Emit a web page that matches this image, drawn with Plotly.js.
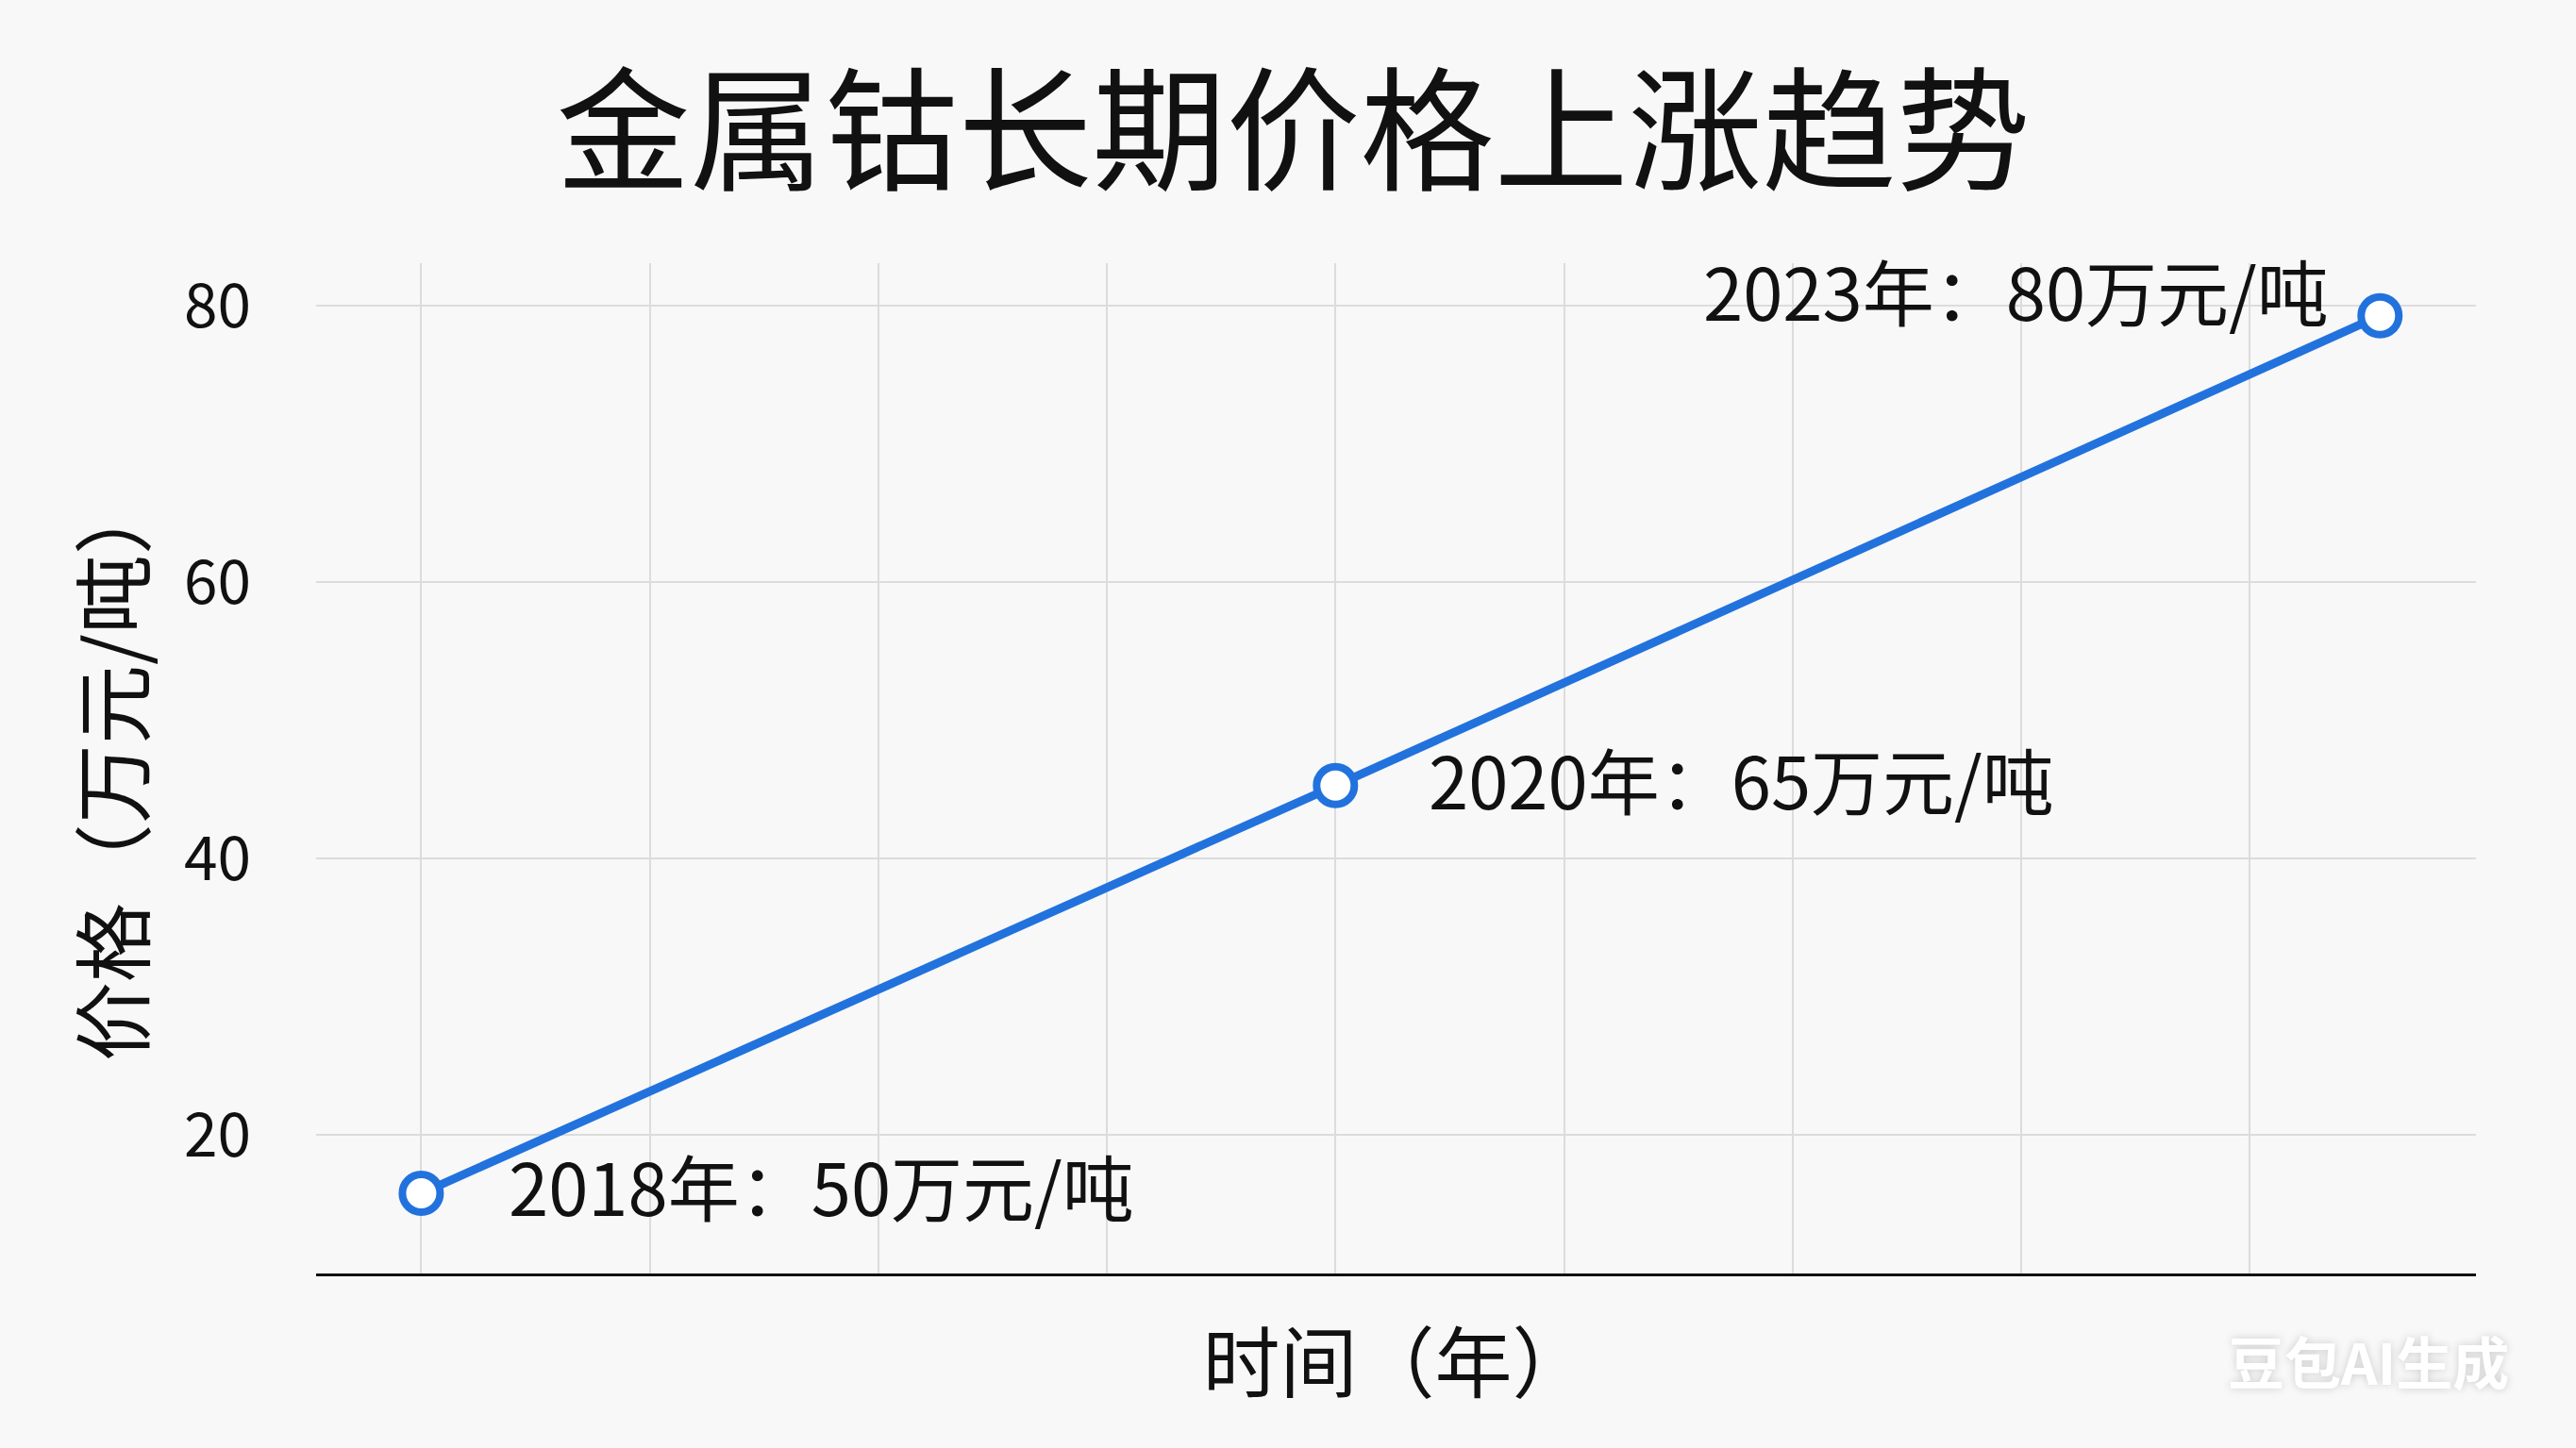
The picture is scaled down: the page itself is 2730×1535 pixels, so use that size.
<!DOCTYPE html>
<html>
<head>
<meta charset="utf-8">
<script src="https://cdn.plot.ly/plotly-3.0.1.min.js"></script>
<style>
  html, body { margin: 0; padding: 0; background: #f8f8f8; }
  #chart { width: 2730px; height: 1535px; }
</style>
</head>
<body>
<div id="chart"></div>
<script>
// ---- data ----
const years = ['2018', '2020', '2023'];          // label years
const priceLabels = [50, 65, 80];                 // 万元/吨 as written in the labels
const timePos = [0, 4, 8.57];                     // horizontal position of each point (grid units)
const plottedPrice = [15.8, 45.3, 79.3];          // height of each point on the price axis
const yTicks = [20, 40, 60, 80];

const titleText = '金属钴长期价格上涨趋势';
const xTitle = '时间（年）';
const yTitle = '价格（万元/吨）';
const watermark = '豆包AI生成';

// label placement per point (styles only)
const labelStyle = [
  { xanchor: 'left',  xshift: 91,  yshift: 9 },
  { xanchor: 'left',  xshift: 97,  yshift: 8 },
  { xanchor: 'right', xshift: -52, yshift: 28 }
];

const FONT = '"Noto Sans CJK SC", "Noto Sans", sans-serif';
const BLUE = '#2272dd';

const trace = {
  type: 'scatter',
  mode: 'lines+markers',
  x: timePos,
  y: plottedPrice,
  line: { color: BLUE, width: 9 },
  marker: { symbol: 'circle', size: 40, color: '#ffffff', line: { color: BLUE, width: 8 } },
  hoverinfo: 'skip',
  cliponaxis: false
};

const annotations = years.map((yr, i) => ({
  x: timePos[i], y: plottedPrice[i], xref: 'x', yref: 'y',
  text: yr + '年：' + priceLabels[i] + '万元/吨',
  showarrow: false,
  xanchor: labelStyle[i].xanchor, yanchor: 'middle',
  xshift: labelStyle[i].xshift, yshift: labelStyle[i].yshift,
  font: { family: FONT, size: 76, color: '#111111' }
}));

annotations.push({
  xref: 'paper', yref: 'paper',
  x: (2510 - 335) / (2730 - 335 - 106), y: -(1441 - 1350) / (1350 - 279),
  text: '<b>' + watermark + '</b>',
  showarrow: false, xanchor: 'center', yanchor: 'middle',
  font: { family: FONT, size: 60, color: '#ffffff', shadow: '0px 0px 10px rgba(0,0,0,0.18)' }
});

const layout = {
  width: 2730, height: 1535,
  paper_bgcolor: '#f8f8f8', plot_bgcolor: '#f8f8f8',
  margin: { l: 335, r: 106, t: 279, b: 185 },
  showlegend: false,
  title: {
    text: titleText,
    x: 0.502, xanchor: 'center',
    y: 1 - 141 / 1535, yanchor: 'middle',
    font: { family: FONT, size: 142, color: '#111111' }
  },
  xaxis: {
    range: [-0.46, 8.99],
    tick0: 0, dtick: 1,
    showticklabels: false, ticks: '',
    showgrid: true, gridcolor: '#dcdcdc', gridwidth: 2,
    zeroline: false,
    showline: true, linecolor: '#111111', linewidth: 3,
    title: { text: xTitle, standoff: 66, font: { family: FONT, size: 82, color: '#111111' } }
  },
  yaxis: {
    range: [10, 83.1],
    tickvals: yTicks,
    ticks: '', ticklabelstandoff: 68,
    tickfont: { family: FONT, size: 64, color: '#111111' },
    showgrid: true, gridcolor: '#dcdcdc', gridwidth: 2,
    zeroline: false, showline: false,
    title: { text: yTitle, standoff: 14, font: { family: FONT, size: 84, color: '#111111' } }
  },
  annotations: annotations
};

Plotly.newPlot('chart', [trace], layout, { displayModeBar: false, staticPlot: true });
</script>
</body>
</html>
